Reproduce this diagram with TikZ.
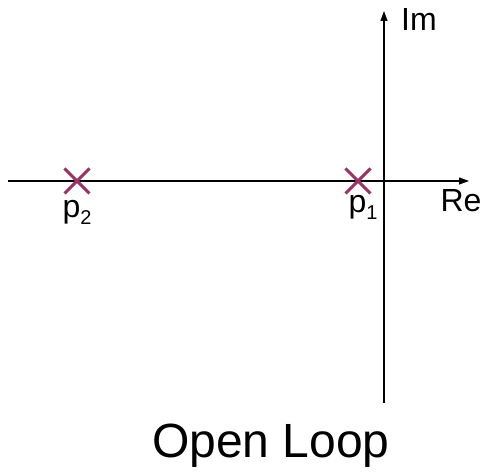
\documentclass[tikz,border=0pt]{standalone}
\usepackage{fontspec}
\setmainfont{Liberation Sans}
\usetikzlibrary{arrows.meta, positioning, shapes.misc}
\definecolor{polecol}{HTML}{9B3366}
\newcommand{\polesub}[1]{\raisebox{-7pt}{\fontsize{20}{22}\selectfont #1}}

\begin{document}
\begin{tikzpicture}[x=1pt,y=1pt,
  axis/.style={line width=1.1pt,-{Triangle[length=10pt,width=7pt]}},
  pole/.style={cross out,draw=polecol,line width=3pt,minimum size=22pt,inner sep=0pt},
  every node/.style={font=\fontsize{32}{36}\selectfont}]
  \useasboundingbox (0,0) rectangle (483,472);
  % axes
  \coordinate (xl) at (8,291);
  \coordinate (xr) at (469,291);
  \coordinate (yb) at (384,69);
  \coordinate (yt) at (384,461);
  \draw[axis] (xl) -- (xr);
  \draw[axis] (yb) -- (yt);
  \node (im) at (419,453) {Im};
  \node (re) at (461,271) {Re};
  % poles
  \node[pole] (p1) at (358,291) {};
  \node[pole] (p2) at (77,291) {};
  \node[below=-2pt of p1,xshift=5pt] (l1) {p\polesub{1}};
  \node[below=3pt of p2] (l2) {p\polesub{2}};
  \node[font=\fontsize{48}{56}\selectfont,inner sep=0pt] (title) at (271,26) {Open Loop};
\end{tikzpicture}
\end{document}
